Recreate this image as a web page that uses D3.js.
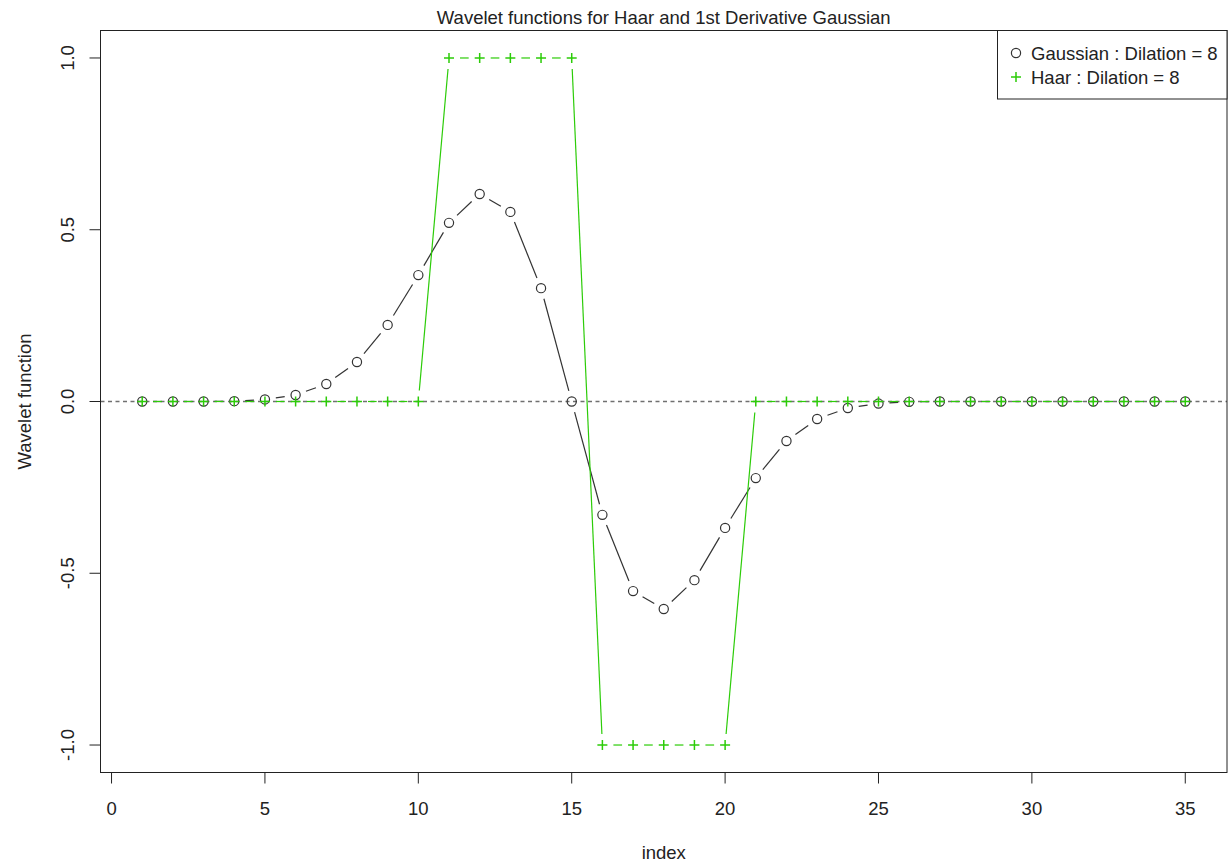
<!DOCTYPE html>
<html>
<head>
<meta charset="utf-8">
<script src="https://cdn.jsdelivr.net/npm/d3@7/dist/d3.min.js"></script>
<style>
  body { margin: 0; background: #fff; }
  text { font-family: "Liberation Sans", Arial, sans-serif; fill: #222; }
</style>
</head>
<body>
<div id="chart"></div>
<script>
// index 1..35
const idx = d3.range(1, 36);

// 1st derivative Gaussian wavelet, dilation 8
const gaussVals = [
    0, 0, 0, 0.001, 0.006, 0.019, 0.051, 0.115, 0.223, 0.368,
    0.52, 0.604, 0.552, 0.33, 0, -0.33, -0.552, -0.604, -0.52, -0.368,
    -0.223, -0.115, -0.051, -0.019, -0.006, -0.001, 0, 0, 0, 0,
    0, 0, 0, 0, 0
];

// Haar wavelet, dilation 8
const haarVals = [
    0, 0, 0, 0, 0, 0, 0, 0, 0, 0,
    1, 1, 1, 1, 1, -1, -1, -1, -1, -1,
    0, 0, 0, 0, 0, 0, 0, 0, 0, 0,
    0, 0, 0, 0, 0
];

const xTicks = [0, 5, 10, 15, 20, 25, 30, 35];
const yTicks = [-1, -0.5, 0, 0.5, 1];
const legendLabels = ["Gaussian : Dilation = 8", "Haar : Dilation = 8"];

const W = 1228, H = 863;
const plot = {left: 100.5, right: 1227, top: 30.5, bottom: 772.5};
const gaussCol = "#333", haarCol = "#2ccc08";
const fs = 18.5;

const svg = d3.select("#chart").append("svg")
    .attr("width", W).attr("height", H);

// R style: 4% padding on each side
const x = d3.scaleLinear().domain([1 - 34 * 0.04, 35 + 34 * 0.04]).range([plot.left, plot.right]);
const y = d3.scaleLinear().domain([-1.08, 1.08]).range([plot.bottom, plot.top]);

// zero reference line
svg.append("line")
    .attr("x1", plot.left).attr("x2", plot.right)
    .attr("y1", y(0)).attr("y2", y(0))
    .attr("stroke", "#707070").attr("stroke-width", 1.4)
    .attr("stroke-dasharray", "4,3.5");

// type = "b": segments shortened around each point
function drawGapped(vals, color) {
    const gap = 11;
    const g = svg.append("g");
    for (let i = 0; i < vals.length - 1; i++) {
        const x0 = x(idx[i]), y0 = y(vals[i]);
        const x1 = x(idx[i + 1]), y1 = y(vals[i + 1]);
        const len = Math.hypot(x1 - x0, y1 - y0);
        if (len <= 2 * gap) continue;
        const ux = (x1 - x0) / len, uy = (y1 - y0) / len;
        g.append("line")
            .attr("x1", x0 + ux * gap).attr("y1", y0 + uy * gap)
            .attr("x2", x1 - ux * gap).attr("y2", y1 - uy * gap)
            .attr("stroke", color).attr("stroke-width", 1.2);
    }
}

drawGapped(gaussVals, gaussCol);
drawGapped(haarVals, haarCol);

svg.append("g").selectAll("circle")
    .data(idx)
    .join("circle")
    .attr("cx", d => x(d))
    .attr("cy", (d, i) => y(gaussVals[i]))
    .attr("r", 4.6)
    .attr("fill", "none")
    .attr("stroke", gaussCol)
    .attr("stroke-width", 1.2);

function plusPath(s) {
    return `M${-s},0H${s}M0,${-s}V${s}`;
}
svg.append("g").selectAll("path")
    .data(idx)
    .join("path")
    .attr("transform", (d, i) => `translate(${x(d)},${y(haarVals[i])})`)
    .attr("d", plusPath(5))
    .attr("stroke", haarCol)
    .attr("stroke-width", 1.5);

// box
svg.append("rect")
    .attr("x", plot.left).attr("y", plot.top)
    .attr("width", plot.right - plot.left).attr("height", plot.bottom - plot.top)
    .attr("fill", "none").attr("stroke", "#222").attr("stroke-width", 1);

// x axis
const xAxis = svg.append("g").attr("transform", `translate(0,${plot.bottom})`);
xAxis.append("line")
    .attr("x1", x(0)).attr("x2", x(35))
    .attr("stroke", "#222");
xAxis.selectAll("line.tick").data(xTicks).join("line")
    .attr("class", "tick")
    .attr("x1", d => x(d)).attr("x2", d => x(d))
    .attr("y1", 0).attr("y2", 11)
    .attr("stroke", "#222");
xAxis.selectAll("text").data(xTicks).join("text")
    .attr("x", d => x(d)).attr("y", 42)
    .attr("text-anchor", "middle")
    .attr("font-size", fs)
    .text(d => d);

// y axis
const yAxis = svg.append("g").attr("transform", `translate(${plot.left},0)`);
yAxis.append("line")
    .attr("y1", y(-1)).attr("y2", y(1))
    .attr("stroke", "#222");
yAxis.selectAll("line.tick").data(yTicks).join("line")
    .attr("class", "tick")
    .attr("y1", d => y(d)).attr("y2", d => y(d))
    .attr("x1", 0).attr("x2", -11)
    .attr("stroke", "#222");
yAxis.selectAll("text").data(yTicks).join("text")
    .attr("transform", d => `translate(-27,${y(d)}) rotate(-90)`)
    .attr("text-anchor", "middle")
    .attr("font-size", fs)
    .text(d => d.toFixed(1));

// titles
const cx = (plot.left + plot.right) / 2;
svg.append("text")
    .attr("x", cx).attr("y", 24)
    .attr("text-anchor", "middle")
    .attr("font-size", fs)
    .text("Wavelet functions for Haar and 1st Derivative Gaussian");

svg.append("text")
    .attr("x", cx).attr("y", 859)
    .attr("text-anchor", "middle")
    .attr("font-size", fs)
    .text("index");

svg.append("text")
    .attr("transform", `translate(31,${(plot.top + plot.bottom) / 2}) rotate(-90)`)
    .attr("text-anchor", "middle")
    .attr("font-size", fs)
    .text("Wavelet function");

// legend
const leg = svg.append("g");
leg.append("rect")
    .attr("x", 997.5).attr("y", plot.top)
    .attr("width", plot.right - 997.5).attr("height", 68.5)
    .attr("fill", "#fff").attr("stroke", "#222");
leg.append("circle")
    .attr("cx", 1016).attr("cy", 53).attr("r", 4.6)
    .attr("fill", "none").attr("stroke", gaussCol).attr("stroke-width", 1.2);
leg.append("path")
    .attr("transform", "translate(1016,77)")
    .attr("d", plusPath(5))
    .attr("stroke", haarCol).attr("stroke-width", 1.5);
leg.selectAll("text").data(legendLabels).join("text")
    .attr("x", 1031)
    .attr("y", (d, i) => 59.5 + i * 24)
    .attr("font-size", fs)
    .text(d => d);
</script>
</body>
</html>
